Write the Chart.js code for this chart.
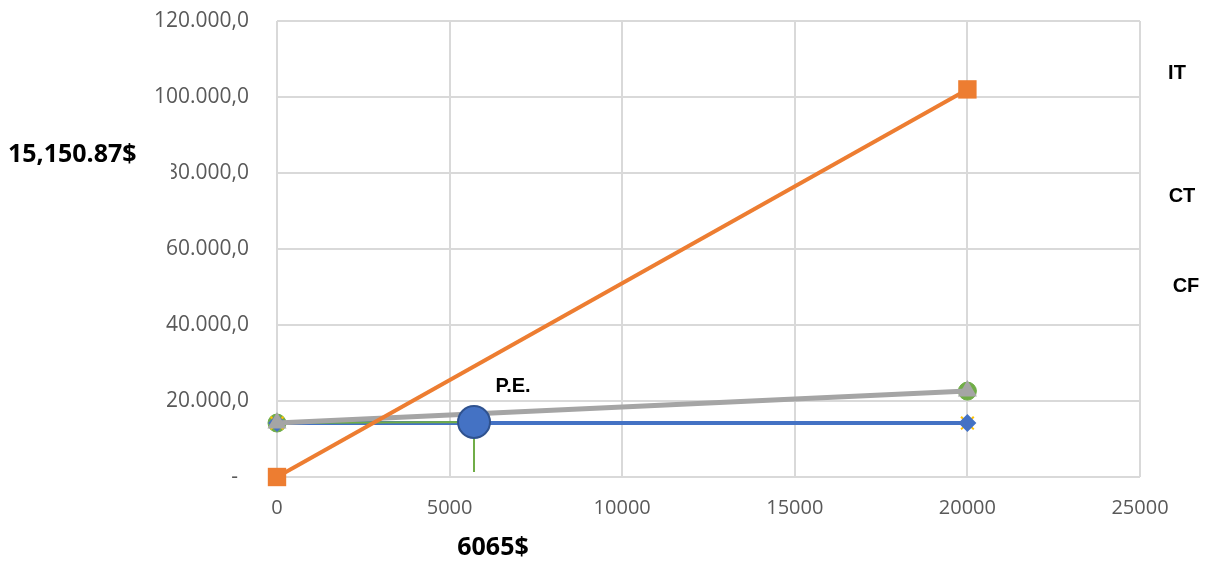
<!DOCTYPE html>
<html lang="es">
<head>
<meta charset="UTF-8">
<title>Punto de equilibrio</title>
<style>
  html, body { margin: 0; padding: 0; background: #fff; }
  #wrap { width: 1205px; height: 561px; }
</style>
</head>
<body>
<div id="wrap"><canvas id="chart"></canvas></div>
<script src="https://cdn.jsdelivr.net/npm/chart.js"></script>
<script>
// data
const unidades = [0, 20000]
const ingresoTotal = [0, 102000]      // IT
const costoTotal = [14200, 22600]     // CT
const costoFijo = [14200, 14200]      // CF
const costoVar = [14200, 22600]       // green markers under CT
const pe = { x: 5707, y: 14470 }      // punto de equilibrio
const peDrop = [{ x: 0, y: 14200 }, { x: 5707, y: 14470 }, { x: 5707, y: 1300 }]
const yTicks = ['-  ', '20.000,0', '40.000,0', '60.000,0', '80.000,0', '100.000,0', '120.000,0']
const xTicks = [0, 5000, 10000, 15000, 20000, 25000]

const toPts = (ys) => unidades.map((x, i) => ({ x: x, y: ys[i] }))

const labelsPlugin = {
  id: 'labels',
  afterDraw(chart) {
    const ctx = chart.ctx
    const xs = chart.scales.x, ys = chart.scales.y
    ctx.save()
    ctx.textBaseline = 'middle'
    // white box of the text clips the edge of the 80.000,0 label like the original
    ctx.fillStyle = '#fff'
    ctx.fillRect(6, 138, 165, 46)
    ctx.fillStyle = '#000'
    ctx.font = 'bold 25px "Open Sans"'
    ctx.textAlign = 'left'
    ctx.fillText('15,150.87$', 8, 155)
    ctx.textAlign = 'center'
    ctx.fillText('6065$', 493, 548)

    ctx.font = 'bold 20px "Liberation Sans"'
    ctx.fillText('IT', 1177, 73)
    ctx.fillText('CT', 1182, 196)
    ctx.fillText('CF', 1186, 286)
    ctx.fillText('P.E.', xs.getPixelForValue(pe.x) + 39, ys.getPixelForValue(pe.y) - 36)
    ctx.restore()
  }
}

new Chart(document.getElementById('chart'), {
  type: 'scatter',
  data: {
    datasets: [
      {
        label: 'P.E.',
        data: [pe],
        showLine: false,
        clip: false,
        pointStyle: 'circle',
        pointRadius: 16,
        backgroundColor: '#4472C4',
        borderColor: '#2F528F',
        borderWidth: 2
      },
      {
        label: 'IT',
        data: toPts(ingresoTotal),
        showLine: true,
        clip: false,
        borderColor: '#ED7D31',
        backgroundColor: '#ED7D31',
        borderWidth: 4,
        pointStyle: 'rect',
        pointRadius: 13,
        pointBorderWidth: 0
      },
      {
        label: 'CT',
        data: toPts(costoTotal),
        showLine: true,
        clip: false,
        borderColor: '#A5A5A5',
        backgroundColor: '#A5A5A5',
        borderWidth: 5,
        pointStyle: 'triangle',
        pointRadius: 11,
        pointBorderWidth: 0
      },
      {
        label: 'pe',
        data: peDrop,
        showLine: true,
        clip: false,
        borderColor: '#70AD47',
        borderWidth: 2,
        pointRadius: 0
      },
      {
        label: 'CF',
        data: toPts(costoFijo),
        showLine: true,
        clip: false,
        borderColor: '#4472C4',
        backgroundColor: '#4472C4',
        borderWidth: 4,
        pointStyle: 'rectRot',
        pointRadius: 9,
        pointBorderWidth: 0
      },
      {
        label: 'x',
        data: toPts(costoFijo),
        showLine: false,
        clip: false,
        pointStyle: 'crossRot',
        pointRadius: 9,
        borderColor: '#FFC000',
        pointBorderWidth: 2
      },
      {
        label: 'CV',
        data: toPts(costoVar),
        showLine: false,
        clip: false,
        pointStyle: 'circle',
        pointRadius: 9,
        backgroundColor: '#70AD47',
        borderColor: '#70AD47'
      }
    ]
  },
  options: {
    responsive: true,
    maintainAspectRatio: false,
    animation: false,
    layout: { autoPadding: false, padding: { top: 21, right: 65, left: 0, bottom: 0 } },
    plugins: { legend: { display: false }, tooltip: { enabled: false } },
    scales: {
      x: {
        type: 'linear',
        min: 0, max: 25000,
        afterBuildTicks: (s) => { s.ticks = xTicks.map(v => ({ value: v })) },
        afterFit: (s) => { s.height = 84 },
        grid: { color: '#D9D9D9', lineWidth: 2, tickLength: 19, tickColor: 'rgba(0,0,0,0)' },
        border: { display: false },
        ticks: {
          color: '#595959',
          font: { family: 'Open Sans', size: 20 },
          padding: 0,
          callback: (v) => String(v)
        }
      },
      y: {
        min: 0, max: 120000,
        ticks: {
          stepSize: 20000,
          color: '#595959',
          font: { family: 'Open Sans', size: 21 },
          padding: 0,
          callback: (v, i) => yTicks[i]
        },
        afterFit: (s) => { s.width = 277 },
        grid: { color: '#D9D9D9', lineWidth: 2, tickLength: 28, tickColor: 'rgba(0,0,0,0)' },
        border: { display: false }
      }
    }
  },
  plugins: [labelsPlugin]
})
</script>
</body>
</html>
